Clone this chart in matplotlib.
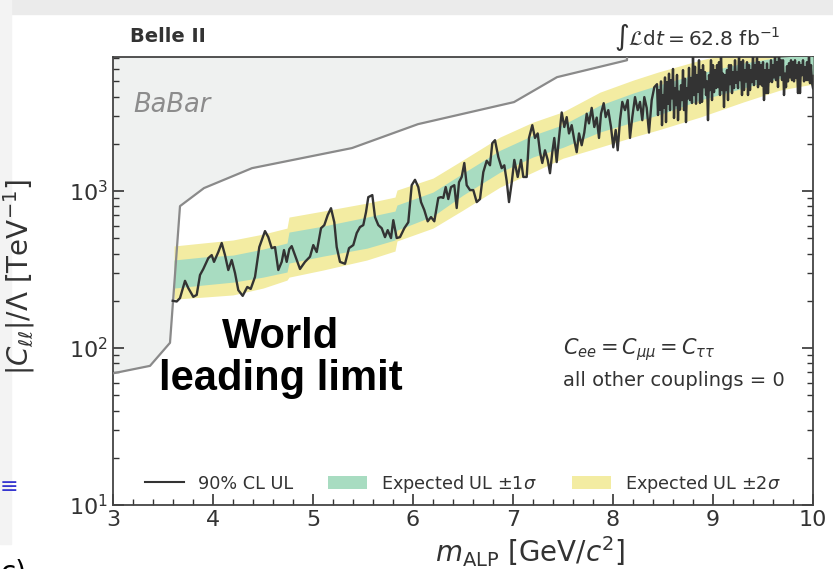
import matplotlib
matplotlib.use("Agg")
import matplotlib.pyplot as plt
from matplotlib.patches import Rectangle, Patch
from matplotlib.lines import Line2D
from matplotlib.ticker import MultipleLocator

# BaBar excluded region (lower edge of the grey area)
babar_m = [3.0, 3.37, 3.57, 3.67, 3.91, 4.39, 5.39, 6.05, 7.01, 7.44, 8.14, 8.14]
babar_lim = [69, 77, 108, 802, 1045, 1400, 1880, 2670, 3690, 5320, 6820, 7200]

# expected upper limit bands
band_m = [3.61, 3.9, 4.2, 4.5, 4.74, 4.76, 5.1, 5.54, 5.82, 5.84, 6.2, 6.5, 6.87,
          7.2, 7.5, 7.87, 8.2, 8.45, 8.87, 9.3, 9.67, 10.0]
exp_p2 = [447, 467, 488, 532, 581, 683, 746, 839, 916, 1015, 1210, 1580, 2210,
          2750, 3200, 4270, 5090, 5730, 6820, 7910, 8510, 8770]
exp_p1 = [364, 380, 391, 427, 467, 548, 598, 683, 746, 815, 986, 1300, 1820,
          2270, 2650, 3530, 4210, 4730, 5645, 6530, 7140, 7350]
exp_m1 = [241, 252, 263, 283, 305, 348, 385, 433, 488, 564, 693, 943, 1320,
          1650, 1900, 2380, 2750, 3050, 3800, 4530, 5250, 5560]
exp_m2 = [205, 211, 218, 241, 271, 283, 314, 364, 415, 481, 581, 757, 1060,
          1320, 1620, 1905, 2210, 2450, 2960, 3690, 4400, 4810]

# observed 90% CL upper limit
obs_m = [
    3.597, 3.637, 3.67, 3.72, 3.753, 3.803, 3.837, 3.87, 3.903, 3.953, 3.987, 4.01,
    4.053, 4.087, 4.12, 4.153, 4.187, 4.22, 4.253, 4.297, 4.343, 4.377, 4.42, 4.463,
    4.52, 4.553, 4.587, 4.62, 4.653, 4.687, 4.71, 4.737, 4.763,
    4.787, 4.837, 4.87, 4.92, 4.97, 5.003, 5.037, 5.08, 5.113, 5.147, 5.18, 5.213,
    5.237, 5.27, 5.32, 5.36, 5.403, 5.437, 5.47, 5.503, 5.53, 5.553, 5.593, 5.62,
    5.653, 5.687, 5.72, 5.747, 5.78, 5.803, 5.837, 5.87, 5.913, 5.953, 5.987,
    6.02, 6.053, 6.08, 6.113, 6.147, 6.18, 6.213, 6.253, 6.28, 6.303, 6.327, 6.353,
    6.38, 6.413, 6.437, 6.46, 6.487, 6.513, 6.537, 6.57, 6.603, 6.637, 6.67, 6.703,
    6.737, 6.77, 6.793, 6.82, 6.853, 6.887, 6.913, 6.937, 6.96, 6.987, 7.013, 7.047,
    7.08, 7.103,
    7.137, 7.16, 7.193, 7.22, 7.247, 7.27, 7.293, 7.32, 7.347, 7.37, 7.393, 7.413,
    7.437, 7.46, 7.487, 7.513, 7.537, 7.56, 7.587, 7.613, 7.637, 7.66, 7.687, 7.713,
    7.737, 7.76, 7.787, 7.813, 7.837, 7.86, 7.88, 7.907, 7.927, 7.953, 7.98, 8.003,
    8.027, 8.047, 8.07, 8.093, 8.12, 8.147, 8.17, 8.193, 8.22, 8.247, 8.27, 8.293,
    8.313, 8.337, 8.36, 8.387, 8.413,
    8.44, 8.45, 8.46, 8.47, 8.48, 8.49, 8.50, 8.51, 8.52, 8.53,
    8.54, 8.55, 8.56, 8.57, 8.58, 8.59, 8.60, 8.61, 8.62, 8.63,
    8.64, 8.65, 8.66, 8.67, 8.68, 8.69, 8.70, 8.71, 8.72, 8.73,
    8.74, 8.75, 8.76, 8.77, 8.78, 8.79, 8.80, 8.81, 8.82, 8.83,
    8.84, 8.85, 8.86, 8.87, 8.88, 8.89, 8.90, 8.91, 8.92, 8.93,
    8.94, 8.95, 8.96, 8.97, 8.98, 8.99, 9.00, 9.01, 9.02, 9.03,
    9.04, 9.05, 9.06, 9.07, 9.08, 9.09, 9.10, 9.11, 9.12, 9.13,
    9.14, 9.15, 9.16, 9.17, 9.18, 9.19, 9.20, 9.21, 9.22, 9.23,
    9.24, 9.25, 9.26, 9.27, 9.28, 9.29, 9.30, 9.31, 9.32, 9.33,
    9.34, 9.35, 9.36, 9.37, 9.38, 9.39, 9.40, 9.41, 9.42, 9.43,
    9.44, 9.45, 9.46, 9.47, 9.48, 9.49, 9.50, 9.51, 9.52, 9.53,
    9.54, 9.55, 9.56, 9.57, 9.58, 9.59, 9.60, 9.61, 9.62, 9.63,
    9.64, 9.65, 9.66, 9.67, 9.68, 9.69, 9.70, 9.71, 9.72, 9.73,
    9.74, 9.75, 9.76, 9.77, 9.78, 9.79, 9.80, 9.81, 9.82, 9.83,
    9.84, 9.85, 9.86, 9.87, 9.88, 9.89, 9.90, 9.91, 9.92, 9.93,
    9.94, 9.95, 9.96, 9.97, 9.98, 9.99, 10.0,
]
obs_lim = [
    200, 198, 208, 268, 241, 212, 218, 292, 319, 374, 391, 354,
    409, 467, 391, 314, 364, 301, 234, 215, 245, 238, 284, 440,
    556, 509, 433, 440, 314, 354, 421, 354, 427,
    446, 364, 319, 354, 382, 453, 409, 580, 607, 703, 778, 633,
    440, 354, 344, 433, 453, 540, 590, 607, 734, 915, 943, 683,
    607, 580, 509, 564, 502, 653, 502, 509, 580, 633, 1090,
    1180, 1060, 851, 757, 642, 683, 642, 905, 915, 905, 1060, 890,
    1060, 1090, 780, 1140, 1230, 1510, 1090, 1015, 1015, 851, 890, 1320,
    1560, 1460, 2020, 2110, 1650, 1400, 1460, 1160, 851, 1130, 1580, 1230,
    1580, 1230,
    1230, 2180, 2630, 2180, 2330, 1770, 1510, 1820, 1580, 1300, 1770, 2180,
    1530, 2180, 3170, 2560, 2960, 2330, 2630, 2110, 1770, 2330, 1960, 2360,
    3110, 2700, 3390, 2560, 2940, 2180, 3110, 3630, 2960, 3280, 2560, 1900,
    2450, 1820, 2830, 3700, 3280, 3800, 2180, 2960, 3970, 3280, 3700, 2830,
    3970, 3390, 2360, 3800, 4590,
    4800, 3050, 4400, 3300, 5000, 2630, 4090, 3400, 5300, 2750,
    4945, 3600, 5600, 3280, 5090, 3900, 6000, 2920, 4530, 3530,
    5500, 2830, 4300, 3300, 4730, 3800, 5900, 3280, 5200, 2750,
    4530, 3900, 6100, 3800, 5250, 3640, 7300, 4090, 6200, 3600,
    5480, 4300, 6820, 3640, 5900, 3700, 6350, 4590, 5730, 4090,
    5000, 2830, 5480, 4400, 6820, 3800, 6350, 4270, 5900, 4530,
    6350, 4590, 6630, 4090, 7600, 4400, 5600, 3430, 5480, 4400,
    5900, 3800, 6350, 4800, 6350, 4210, 5730, 4530, 6820, 4900,
    5730, 4530, 7400, 5090, 6630, 4090, 6820, 4400, 5900, 5000,
    6630, 4090, 6350, 4400, 5900, 4945, 7500, 4730, 6350, 5200,
    7030, 4590, 6630, 4800, 6350, 4700, 6630, 3800, 5900, 4210,
    6500, 4210, 5900, 5000, 6820, 4945, 6350, 5300, 7140, 5090,
    6630, 4600, 7800, 5480, 6820, 5100, 6820, 4090, 5600, 4590,
    6250, 5000, 6530, 5300, 6820, 5090, 6630, 5000, 6820, 5250,
    6350, 4210, 6630, 4210, 6350, 5480, 6820, 5000, 6160, 5090,
    6630, 5090, 7400, 4875, 6350, 4875, 4530,
]

GREEN = "#a8dcc1"
YELLOW = "#f3eca2"
DARK = "#333333"

fig = plt.figure(figsize=(8.33, 5.69), dpi=100)
fig.patches.append(Rectangle((0, 1 - 14 / 569), 1, 14 / 569, transform=fig.transFigure,
                             color="#ebebeb", zorder=-1))
fig.patches.append(Rectangle((0, 25 / 569), 11 / 833, 1, transform=fig.transFigure,
                             color="#f3f3f3", zorder=-1))

ax = fig.add_axes([113 / 833, 1 - 505 / 569, 700 / 833, 448 / 569])
ax.set_yscale("log")
ax.set_xlim(3, 10)
ax.set_ylim(10, 7150)

ax.fill_between(babar_m, babar_lim, 1e5, color="#eff1f0", lw=0, zorder=1)
ax.fill_between(band_m, exp_m2, exp_p2, color=YELLOW, lw=0, zorder=2)
ax.fill_between(band_m, exp_m1, exp_p1, color=GREEN, lw=0, zorder=3)
ax.plot(babar_m, babar_lim, color="#8a8a8a", lw=1.6, zorder=4)
ax.plot(obs_m, obs_lim, color=DARK, lw=1.7, zorder=5)

ax.xaxis.set_major_locator(MultipleLocator(1))
ax.xaxis.set_minor_locator(MultipleLocator(0.2))
ax.tick_params(which="both", direction="in", top=False, right=True,
               colors=DARK, labelsize=16)
ax.tick_params(which="major", length=8, width=1.2)
ax.tick_params(which="minor", length=4, width=1.0)
for s in ax.spines.values():
    s.set_color("#444444")
    s.set_linewidth(1.3)

ax.set_xlabel(r"$m_{\mathrm{ALP}}$ [GeV/$c^2$]", fontsize=20, color=DARK)
ax.set_ylabel(r"$|C_{\ell\ell}|/\Lambda$ [TeV$^{-1}$]", fontsize=20, color=DARK)
ax.xaxis.set_label_coords(0.596, -0.065)
ax.yaxis.set_label_coords(-0.108, 0.51)

ax.text(0.029, 0.893, "BaBar", transform=ax.transAxes, fontsize=18.5, style="italic",
        color="#8c8c8c", va="center")
fig.text(281 / 833, 1 - 358 / 569, "World\nleading limit", ha="center", va="center",
         fontsize=30, fontweight="bold", family="Liberation Sans", linespacing=1.05)
fig.text(563 / 833, 1 - 350 / 569, r"$C_{ee} = C_{\mu\mu} = C_{\tau\tau}$",
         fontsize=15, color=DARK, va="center")
fig.text(563 / 833, 1 - 380 / 569, "all other couplings = 0", fontsize=14, color=DARK,
         va="center")
fig.text(130 / 833, 1 - 37 / 569, "Belle II", fontsize=14, fontweight="bold",
         color=DARK, va="center")
fig.text(780 / 833, 1 - 37 / 569, r"$\int\mathcal{L}\mathrm{d}t = 62.8\ \mathrm{fb}^{-1}$",
         fontsize=14.5, color=DARK, ha="right", va="center")

handles = [
    Line2D([], [], color=DARK, lw=1.5),
    Patch(facecolor=GREEN, edgecolor="none"),
    Patch(facecolor=YELLOW, edgecolor="none"),
]
labels = ["90% CL UL", r"Expected UL $\pm1\sigma$", r"Expected UL $\pm2\sigma$"]
ax.legend(handles, labels, loc="lower center", bbox_to_anchor=(0.5, -0.012), ncol=3,
          frameon=False, fontsize=12.7, handlelength=2.2, columnspacing=2.0,
          labelcolor=DARK)

fig.text(0.0, 1 - 487 / 569, "\u2261", color="#3636d0", fontsize=16, va="center")
fig.text(0.0, 1 - 559 / 569, "c)", color="black", fontsize=20, va="top")

fig.savefig("out.png", dpi=100)
